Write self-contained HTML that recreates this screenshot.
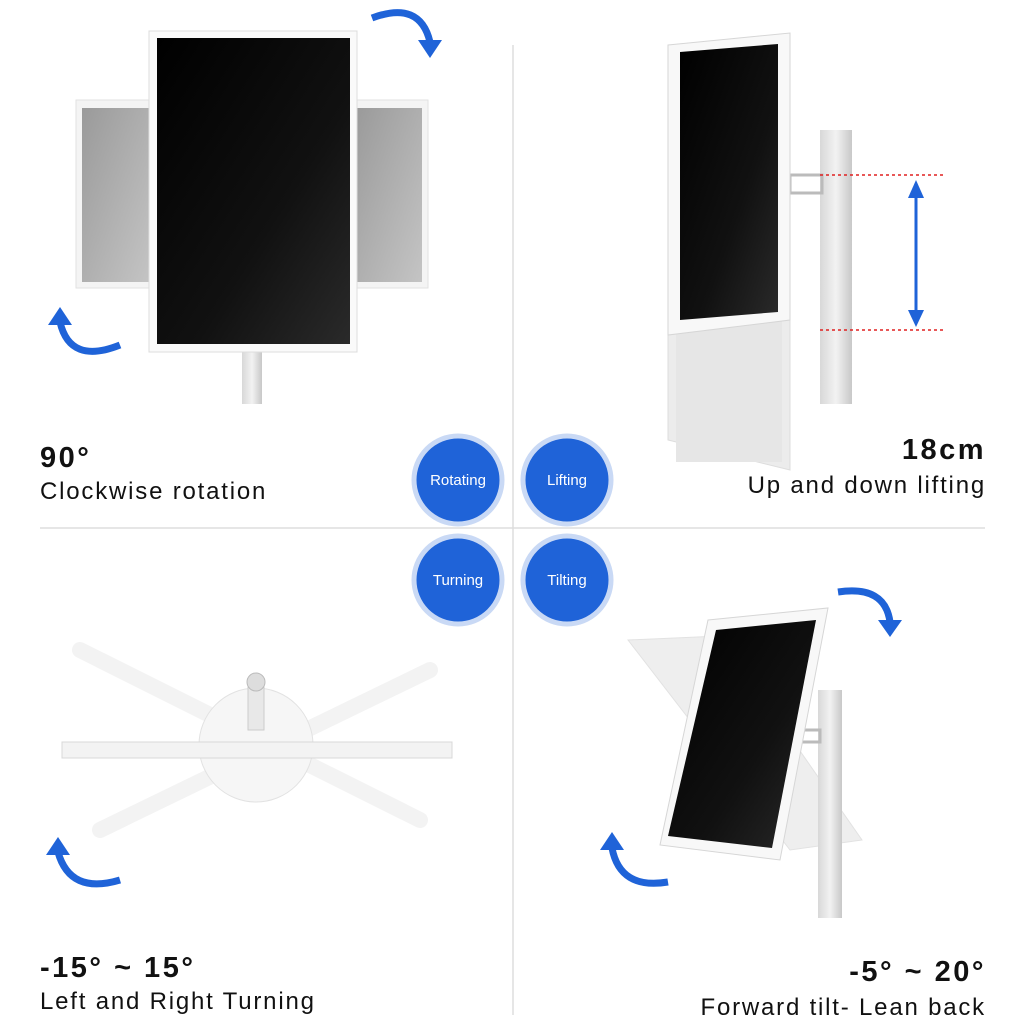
<!DOCTYPE html>
<html><head><meta charset="utf-8"><style>
html,body{margin:0;padding:0;background:#fff}
body{width:1024px;height:1024px;position:relative;overflow:hidden;font-family:"Liberation Sans",sans-serif}
.t{position:absolute;color:#111;white-space:nowrap}
.b{font-weight:bold;font-size:29px;letter-spacing:2.5px}
.s{font-size:24px;letter-spacing:1.8px}
</style></head><body>
<svg width="1024" height="1024" style="position:absolute;left:0;top:0">
<defs>
<linearGradient id="scr" x1="0" y1="0" x2="1" y2="1"><stop offset="0" stop-color="#000"/><stop offset="0.6" stop-color="#111"/><stop offset="1" stop-color="#2a2a2a"/></linearGradient>
<linearGradient id="gp" x1="0" y1="0" x2="1" y2="1"><stop offset="0" stop-color="#9a9a9a"/><stop offset="1" stop-color="#c4c4c4"/></linearGradient>
<linearGradient id="pole" x1="0" y1="0" x2="1" y2="0"><stop offset="0" stop-color="#d8d8d8"/><stop offset="0.5" stop-color="#f2f2f2"/><stop offset="1" stop-color="#c8c8c8"/></linearGradient>
</defs>
<line x1="513" y1="45" x2="513" y2="1015" stroke="#ddd" stroke-width="1.5"/>
<line x1="40" y1="528" x2="985" y2="528" stroke="#ddd" stroke-width="1.5"/>

<rect x="76" y="100" width="80" height="188" fill="#f4f4f4" stroke="#e2e2e2"/>
<rect x="82" y="108" width="68" height="174" fill="url(#gp)"/>
<rect x="350" y="100" width="78" height="188" fill="#f4f4f4" stroke="#e2e2e2"/>
<rect x="356" y="108" width="66" height="174" fill="url(#gp)"/>
<rect x="242" y="352" width="20" height="52" fill="url(#pole)"/>
<rect x="149" y="31" width="208" height="321" fill="#fafafa" stroke="#ddd"/>
<rect x="157" y="38" width="193" height="306" fill="url(#scr)"/>
<path d="M372 18 Q420 0 430 42" fill="none" stroke="#1f63d8" stroke-width="7"/>
<polygon points="418,40 442,40 430,58" fill="#1f63d8"/>
<path d="M120 345 Q70 365 60 322" fill="none" stroke="#1f63d8" stroke-width="7"/>
<polygon points="48,325 72,325 60,307" fill="#1f63d8"/>

<rect x="820" y="130" width="32" height="274" fill="url(#pole)"/>
<rect x="790" y="175" width="32" height="18" fill="none" stroke="#bbb" stroke-width="3"/>
<polygon points="668,312 790,316 790,470 668,440" fill="#ececec" stroke="#ddd"/>
<rect x="676" y="320" width="106" height="142" fill="#e6e6e6"/>
<polygon points="668,45 790,33 790,320 668,335" fill="#f8f8f8" stroke="#d6d6d6"/>
<polygon points="680,52 778,44 778,312 680,320" fill="url(#scr)"/>
<line x1="820" y1="175" x2="945" y2="175" stroke="#e02020" stroke-width="1.5" stroke-dasharray="3,3"/>
<line x1="820" y1="330" x2="945" y2="330" stroke="#e02020" stroke-width="1.5" stroke-dasharray="3,3"/>
<line x1="916" y1="195" x2="916" y2="312" stroke="#1f63d8" stroke-width="3"/>
<polygon points="908,198 924,198 916,180" fill="#1f63d8"/>
<polygon points="908,310 924,310 916,327" fill="#1f63d8"/>

<g fill="#1f63d8" stroke="#c9d9f5" stroke-width="5">
<circle cx="458" cy="480" r="44"/><circle cx="567" cy="480" r="44"/>
<circle cx="458" cy="580" r="44"/><circle cx="567" cy="580" r="44"/>
</g>
<g fill="#fff" font-family="Liberation Sans, sans-serif" font-size="15" text-anchor="middle">
<text x="458" y="485">Rotating</text><text x="567" y="485">Lifting</text>
<text x="458" y="585">Turning</text><text x="567" y="585">Tilting</text>
</g>

<g stroke="#f3f3f3" stroke-width="16" stroke-linecap="round">
<line x1="80" y1="650" x2="420" y2="820"/>
<line x1="100" y1="830" x2="430" y2="670"/>
</g>
<circle cx="256" cy="745" r="57" fill="#f6f6f6" stroke="#e2e2e2"/>
<rect x="62" y="742" width="390" height="16" fill="#f3f3f3" stroke="#d8d8d8"/>
<rect x="248" y="680" width="16" height="50" fill="#e8e8e8" stroke="#ccc"/>
<circle cx="256" cy="682" r="9" fill="#ddd" stroke="#bbb"/>
<path d="M120 880 Q70 895 58 852" fill="none" stroke="#1f63d8" stroke-width="7"/>
<polygon points="46,855 70,855 58,837" fill="#1f63d8"/>

<polygon points="628,640 720,636 862,840 790,850" fill="#eeeeee" stroke="#e2e2e2"/>
<rect x="818" y="690" width="24" height="228" fill="url(#pole)"/>
<rect x="800" y="730" width="20" height="12" fill="none" stroke="#bbb" stroke-width="3"/>
<polygon points="708,620 828,608 780,860 660,845" fill="#f8f8f8" stroke="#d6d6d6"/>
<polygon points="716,630 816,620 772,848 668,836" fill="url(#scr)"/>
<path d="M838 592 Q885 585 890 622" fill="none" stroke="#1f63d8" stroke-width="7"/>
<polygon points="878,620 902,620 890,637" fill="#1f63d8"/>
<path d="M668 882 Q620 890 612 848" fill="none" stroke="#1f63d8" stroke-width="7"/>
<polygon points="600,850 624,850 612,832" fill="#1f63d8"/>
</svg>

<div class="t b" style="left:40px;top:442px">90°</div>
<div class="t s" style="left:40px;top:478px">Clockwise rotation</div>
<div class="t b" style="right:38px;top:434px">18cm</div>
<div class="t s" style="right:38px;top:472px">Up and down lifting</div>
<div class="t b" style="left:40px;top:952px">-15° ~ 15°</div>
<div class="t s" style="left:40px;top:988px">Left and Right Turning</div>
<div class="t b" style="right:38px;top:956px">-5° ~ 20°</div>
<div class="t s" style="right:38px;top:994px">Forward tilt- Lean back</div>
</body></html>
